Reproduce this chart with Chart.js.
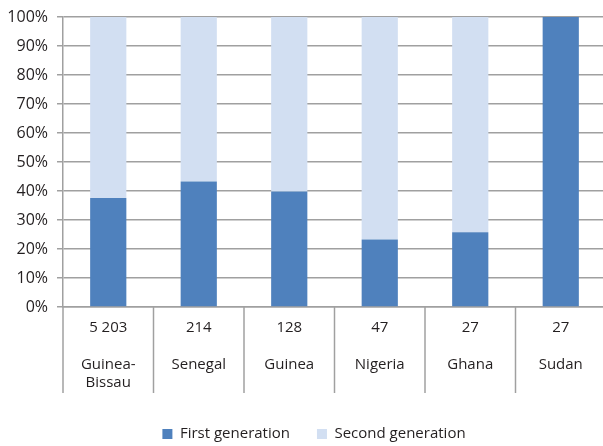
<!DOCTYPE html>
<html>
<head>
<meta charset="utf-8">
<script src="https://cdn.jsdelivr.net/npm/chart.js@4.4.0/dist/chart.umd.min.js"></script>
<style>
  html, body { margin: 0; padding: 0; background: #fff; overflow: hidden; }
  #wrap { width: 606px; height: 446px; }
</style>
</head>
<body>
<div id="wrap"><canvas id="chart"></canvas></div>
<script>
// Data
const countries = ["Guinea-Bissau", "Senegal", "Guinea", "Nigeria", "Ghana", "Sudan"];
const sampleSizes = ["5 203", "214", "128", "47", "27", "27"];
const firstGen = [37.6, 43.3, 39.8, 23.3, 25.8, 100];
const secondGen = [62.4, 56.7, 60.2, 76.7, 74.2, 0];
const yTicks = [0, 10, 20, 30, 40, 50, 60, 70, 80, 90, 100];

const gridColor = "#a0a0a0";
const textColor = "#231f20";
const font = { family: "'Open Sans', sans-serif", size: 15 };

// tick labels: sample size, gap, then country name split at hyphen
const tickLabels = countries.map((c, i) => [sampleSizes[i], ""].concat(c.replace("-", "-\n").split("\n")));

// vertical dividers between categories, below the x axis
const dividers = {
  id: "dividers",
  afterDraw(chart) {
    const x = chart.scales.x;
    const ctx = chart.ctx;
    ctx.save();
    ctx.strokeStyle = gridColor;
    ctx.lineWidth = 1.5;
    for (let i = 0; i <= countries.length; i++) {
      const px = x.getPixelForValue(i - 0.5);
      ctx.beginPath();
      ctx.moveTo(px, x.top);
      ctx.lineTo(px, x.top + 86);
      ctx.stroke();
    }
    ctx.restore();
  }
};

// nudge the legend lower and a bit right, like the original
const moveLegend = {
  id: "moveLegend",
  afterLayout(chart) {
    const lg = chart.legend;
    const h = lg.bottom - lg.top;
    lg.top = 399.5;
    lg.bottom = lg.top + h;
    lg.left = 22;
  }
};

new Chart(document.getElementById("chart"), {
  type: "bar",
  data: {
    labels: tickLabels,
    datasets: [
      { label: "First generation", data: firstGen, backgroundColor: "#4f81bd" },
      { label: "Second generation", data: secondGen, backgroundColor: "#d2dff2" }
    ]
  },
  options: {
    responsive: true,
    maintainAspectRatio: false,
    animation: false,
    layout: { padding: { top: 16, right: 0, bottom: 0, left: 0 } },
    datasets: { bar: { barPercentage: 0.4, categoryPercentage: 1 } },
    plugins: {
      tooltip: { enabled: false },
      legend: {
        position: "bottom",
        labels: {
          color: textColor,
          font: font,
          boxWidth: 10,
          boxHeight: 10,
          padding: 27
        }
      }
    },
    scales: {
      x: {
        stacked: true,
        afterFit: (scale) => { scale.height = 87; },
        border: { color: gridColor, width: 1.5 },
        grid: { display: true, drawOnChartArea: false, drawTicks: false },
        ticks: {
          color: textColor,
          font: Object.assign({}, font, { lineHeight: 1.233 }),
          maxRotation: 0,
          autoSkip: false,
          padding: 11
        }
      },
      y: {
        stacked: true,
        min: 0,
        max: 100,
        afterFit: (scale) => { scale.width = 63; },
        afterBuildTicks: (scale) => { scale.ticks = yTicks.map(v => ({ value: v })); },
        border: { color: gridColor, width: 1.5 },
        grid: { color: gridColor, lineWidth: 1.5, tickLength: 6 },
        ticks: {
          color: textColor,
          font: Object.assign({}, font, { size: 16, lineHeight: 1 }),
          padding: 9,
          callback: (v) => v + "%"
        }
      }
    }
  },
  plugins: [dividers, moveLegend]
});
</script>
</body>
</html>
